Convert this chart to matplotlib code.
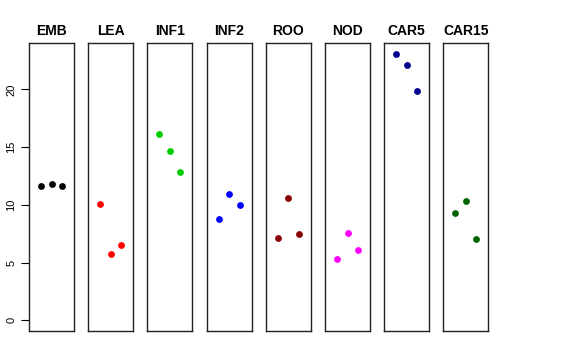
import numpy as np
import matplotlib
matplotlib.use("Agg")
import matplotlib.pyplot as plt

plt.rcParams['font.family'] = ['Liberation Sans', 'DejaVu Sans']

# tissues and the three replicate values per tissue
tissues = ["EMB", "LEA", "INF1", "INF2", "ROO", "NOD", "CAR5", "CAR15"]
emb = [11.65, 11.85, 11.65]
lea = [10.07, 5.74, 6.49]
inf1 = [16.15, 14.7, 12.86]
inf2 = [8.82, 10.93, 10.0]
roo = [7.09, 10.59, 7.44]
nod = [5.34, 7.56, 6.09]
car5 = [23.1, 22.15, 19.84]
car15 = [9.32, 10.35, 7.04]
values = [emb, lea, inf1, inf2, roo, nod, car5, car15]
colors = ["black", "red", "#00CD00", "blue", "#8B0000", "magenta", "#00008B", "#006400"]

fig = plt.figure(figsize=(5.76, 3.6), dpi=100)
W, H = 576.0, 360.0

ymax = max(max(v) for v in values)
pad = 0.04 * ymax

for i, (name, vals, col) in enumerate(zip(tissues, values, colors)):
    left = 29 + i * 59.2
    ax = fig.add_axes([left / W, (H - 331) / H, 45 / W, (331 - 43) / H])
    x = np.arange(1, len(vals) + 1)
    ax.scatter(x, vals, s=24, color=col, zorder=3, linewidths=0)
    ax.set_xlim(-0.16, 4.16)
    ax.set_ylim(-pad, ymax + pad)
    ax.set_xticks([])
    for sp in ax.spines.values():
        sp.set_linewidth(1.0)
        sp.set_color("#222222")
    ax.set_title(name, fontsize=10, fontweight="bold", pad=6)
    if i == 0:
        ax.set_yticks([0, 5, 10, 15, 20])
        ax.tick_params(axis="y", length=6, width=0.8, labelsize=8, pad=3)
        for lab in ax.get_yticklabels():
            lab.set_rotation(90)
            lab.set_va("center")
    else:
        ax.set_yticks([])

fig.savefig("out.png", dpi=100)
